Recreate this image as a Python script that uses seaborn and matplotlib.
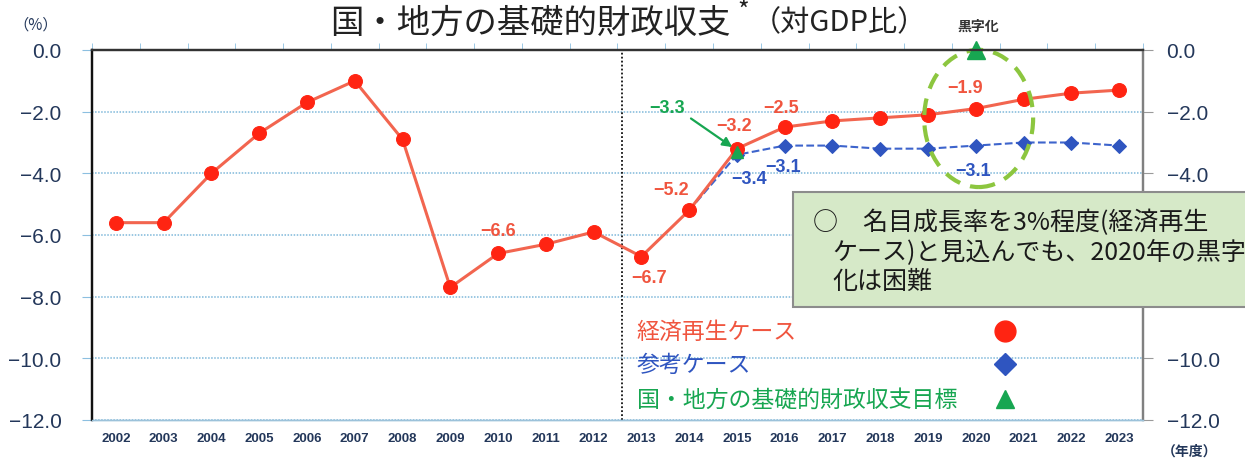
import numpy as np
import pandas as pd
import matplotlib
matplotlib.use("Agg")
import matplotlib.pyplot as plt
import seaborn as sns
from matplotlib.patches import Ellipse, Rectangle
from matplotlib.ticker import FixedLocator, FuncFormatter

# data (% of GDP, fiscal year)
years = list(range(2002, 2024))
revival_case = [-5.6, -5.6, -4.0, -2.7, -1.7, -1.0, -2.9, -7.7, -6.6, -6.3, -5.9,
                -6.7, -5.2, -3.2, -2.5, -2.3, -2.2, -2.1, -1.9, -1.6, -1.4, -1.3]
ref_years = list(range(2014, 2024))
reference_case = [-5.2, -3.4, -3.1, -3.1, -3.2, -3.2, -3.1, -3.0, -3.0, -3.1]
target_years = [2015, 2020]
target_values = [-3.3, 0.0]
yticks = [0.0, -2.0, -4.0, -6.0, -8.0, -10.0, -12.0]

RED_LINE = "#f2654f"
RED_DOT = "#ff2412"
RED_TXT = "#f0553f"
BLUE = "#2f55c0"
GREEN = "#17a651"
NAVY = "#23375a"
CJK = ["Noto Sans CJK JP", "DejaVu Sans"]
LAT = ["Liberation Sans", "DejaVu Sans"]

sns.set_style("white")
plt.rcParams["font.family"] = CJK

W, H = 1245, 460
def fx(px):
    return px / W
def fy(py):
    return 1 - py / H

df_red = pd.DataFrame({"year": years, "value": revival_case})
df_blue = pd.DataFrame({"year": ref_years, "value": reference_case})
df_target = pd.DataFrame({"year": target_years, "value": target_values})

fig = plt.figure(figsize=(W / 100, H / 100), dpi=100)
ax = fig.add_axes([fx(92), fy(421), (1143 - 92) / W, (421 - 51) / H])

sns.lineplot(data=df_blue, x="year", y="value", ax=ax, color="#3d64cc", lw=1.5,
             linestyle="--", marker="D", markersize=7, markerfacecolor=BLUE,
             markeredgecolor=BLUE, zorder=3)
sns.lineplot(data=df_red, x="year", y="value", ax=ax, color=RED_LINE, lw=2.2,
             marker="o", markersize=10, markerfacecolor=RED_DOT,
             markeredgecolor=RED_DOT, zorder=4)
ax.plot(df_target["year"].iloc[:1], df_target["value"].iloc[:1], "^", color=GREEN,
        markersize=9, zorder=6)
ax.plot(df_target["year"].iloc[1:], df_target["value"].iloc[1:], "^", color=GREEN,
        markersize=13, zorder=6, clip_on=False)

ax.set_xlim(2001.5, 2023.5)
ax.set_ylim(-12, 0)
ax.set_xlabel("")
ax.set_ylabel("")

ax.set_yticks(yticks)
fmt = FuncFormatter(lambda v, p: f"{v:.1f}".replace("-", "\u2212"))
ax.yaxis.set_major_formatter(fmt)
ax.grid(axis="y", color="#7fb8da", linestyle=(0, (1, 1)), lw=1.1)
ax.grid(axis="x", visible=False)
ax.set_xticks(years)
ax.set_xticklabels([str(y) for y in years], fontsize=9.5, fontweight="bold",
                   color=NAVY, family=LAT)
ax.xaxis.set_minor_locator(FixedLocator(np.arange(2001.5, 2024, 1.0)))
ax.tick_params(axis="x", which="major", length=0, pad=9)
ax.tick_params(axis="x", which="minor", top=True, bottom=False, direction="out",
               length=5, color="#8cbfe0")
ax.tick_params(axis="y", which="major", left=True, direction="out", length=7,
               color="#8cbfe0", pad=15, labelsize=15, labelcolor=NAVY)
for lab in ax.get_yticklabels():
    lab.set_family(LAT)

# right-hand scale; -6.0 and -8.0 sit under the note box, so they stay blank
ax2 = ax.twinx()
ax2.set_ylim(-12, 0)
ax2.set_yticks(yticks)
ax2.set_yticklabels(["" if v in (-6.0, -8.0) else f"{v:.1f}".replace("-", "\u2212")
                     for v in yticks])
ax2.tick_params(axis="y", direction="out", length=7, color="#9a9a9a", pad=10,
                labelsize=15, labelcolor=NAVY)
for lab in ax2.get_yticklabels():
    lab.set_family(LAT)

for a in (ax, ax2):
    a.spines["left"].set_color("#111111")
    a.spines["left"].set_linewidth(1.6)
    a.spines["top"].set_color("#333333")
    a.spines["top"].set_linewidth(1.6)
    a.spines["right"].set_color("#808080")
    a.spines["right"].set_linewidth(1.6)
    a.spines["bottom"].set_color("#9cc2da")
    a.spines["bottom"].set_linewidth(1.0)

ax.axvline(2012.6, color="#111111", linestyle=(0, (1, 1.2)), lw=1.3, zorder=2)

# data labels
def num(x, y, s, color):
    ax.text(x, y, s, color=color, fontsize=13, fontweight="bold", family=LAT,
            ha="center", va="center", zorder=7)

num(2009.99, -5.87, "\u22126.6", RED_TXT)
num(2013.17, -7.39, "\u22126.7", RED_TXT)
num(2013.63, -4.51, "\u22125.2", RED_TXT)
num(2014.93, -2.46, "\u22123.2", RED_TXT)
num(2015.93, -1.85, "\u22122.5", RED_TXT)
num(2019.78, -1.23, "\u22121.9", RED_TXT)
num(2015.26, -4.18, "\u22123.4", BLUE)
num(2015.97, -3.79, "\u22123.1", BLUE)
num(2019.95, -3.92, "\u22123.1", BLUE)
num(2013.53, -1.88, "\u22123.3", GREEN)
ax.annotate("", xy=(2014.95, -3.2), xytext=(2013.99, -2.17),
            arrowprops=dict(arrowstyle="-|>", color=GREEN, lw=1.6,
                            mutation_scale=14), zorder=7)

ax.add_patch(Ellipse((2020.06, -2.22), 2.28, 4.45, fill=False, edgecolor="#8cc63f",
                     lw=3, linestyle=(0, (4, 2.5)), zorder=5, clip_on=False))

# legend drawn as texts with keys in a column
leg = [("経済再生ケース", RED_TXT, "o", RED_DOT, 15, 0.2405),
       ("参考ケース", BLUE, "D", BLUE, 11, 0.151),
       ("国・地方の基礎的財政収支目標", GREEN, "^", GREEN, 13, 0.0568)]
for label, tc, mk, mc, ms, yy in leg:
    ax.text(0.5185, yy, label, transform=ax.transAxes, color=tc, fontsize=16.5,
            ha="left", va="center", zorder=7)
    ax.plot([0.869], [yy], marker=mk, color=mc, markersize=ms,
            transform=ax.transAxes, zorder=7, clip_on=False)

# note box
box = Rectangle((fx(793), fy(308)), fx(1260) - fx(793), fy(193) - fy(308),
                transform=fig.transFigure, facecolor="#d6e9c8", edgecolor="#8c8c8c",
                lw=1.5, zorder=8, clip_on=False)
fig.add_artist(box)
note = [(813, 223, "○\u3000名目成長率を3%程度(経済再生"),
        (832, 253, "ケース)と見込んでも、2020年の黒字"),
        (832, 282, "化は困難")]
for px, py, s in note:
    fig.text(fx(px), fy(py), s, fontsize=18, color="#1a1a1a", ha="left",
             va="center", zorder=9)

# titles and unit labels
fig.text(fx(330), fy(23), "国・地方の基礎的財政収支", fontsize=24, color="#222222",
         ha="left", va="center")
fig.text(fx(737), fy(12), "*", fontsize=18, color="#222222", ha="left", va="center")
fig.text(fx(752), fy(23), "（対GDP比）", fontsize=21, color="#222222", ha="left",
         va="center")
fig.text(fx(978), fy(27), "黒字化", fontsize=10, fontweight="bold", color="#333333",
         ha="center", va="center")
fig.text(fx(36), fy(25), "（%）", fontsize=11, color=NAVY, ha="center", va="center")
fig.text(fx(1190), fy(452), "（年度）", fontsize=10, fontweight="bold", color=NAVY,
         ha="center", va="center")

fig.savefig("out.png", dpi=100)
